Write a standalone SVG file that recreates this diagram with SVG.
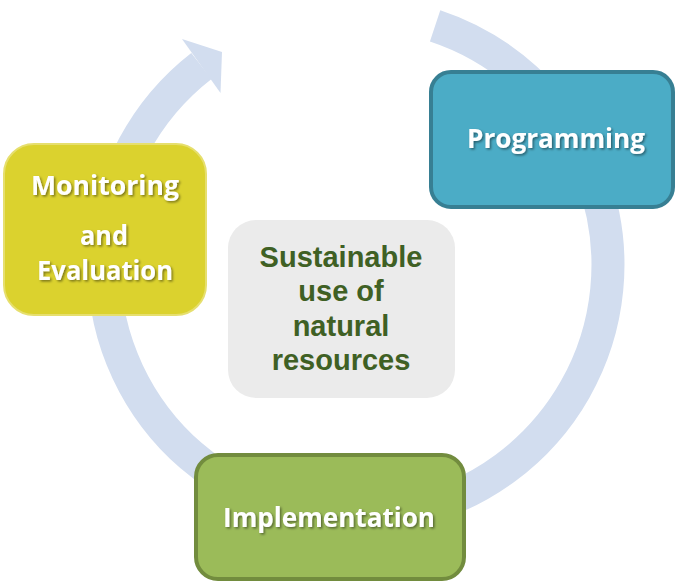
<svg xmlns="http://www.w3.org/2000/svg" width="675" height="583" viewBox="0 0 675 583">
<defs>
<filter id="ts" x="-10%" y="-20%" width="120%" height="150%">
<feDropShadow dx="1.5" dy="1.5" stdDeviation="1" flood-color="#000" flood-opacity="0.45"/>
</filter>
<style>
.ring{fill:none;stroke:#d2ddef;stroke-width:33}
.head{fill:#d2ddef}
.wt{font-family:"Open Sans","DejaVu Sans",sans-serif;font-weight:bold;font-size:26px;fill:#fff;text-anchor:middle;filter:url(#ts)}
.gt{font-family:"Liberation Sans",Arial,sans-serif;font-weight:bold;font-size:29px;fill:#3f6024;text-anchor:middle}
</style>
</defs>
<g id="connectors">
<path class="ring" d="M 435.1 25.8 A 252 252 0 1 1 201.4 66.0"/>
<polygon class="head" points="182,39 222,52 220.5,93"/>
</g>
<g id="programming">
<rect x="431" y="72" width="242" height="135" rx="20" fill="#4bacc6" stroke="#377f93" stroke-width="4"/>
<text class="wt" x="556" y="148" textLength="178" lengthAdjust="spacingAndGlyphs">Programming</text>
</g>
<g id="monitoring">
<rect x="4" y="144" width="202" height="171" rx="30" fill="#dbd22e" stroke="#e6df6e" stroke-width="2"/>
<text class="wt" x="105" y="195" textLength="148" lengthAdjust="spacingAndGlyphs">Monitoring</text>
<text class="wt" x="104" y="245" textLength="48" lengthAdjust="spacingAndGlyphs">and</text>
<text class="wt" x="105" y="280" textLength="136" lengthAdjust="spacingAndGlyphs">Evaluation</text>
</g>
<g id="center">
<rect x="228" y="220" width="227" height="178" rx="28" fill="#ebebeb"/>
<text class="gt" x="341" y="267">Sustainable</text>
<text class="gt" x="341" y="301">use of</text>
<text class="gt" x="341" y="336">natural</text>
<text class="gt" x="341" y="370">resources</text>
</g>
<g id="implementation">
<rect x="196" y="455" width="268" height="124" rx="22" fill="#9bbb59" stroke="#728c3e" stroke-width="4"/>
<text class="wt" x="329" y="527" textLength="212" lengthAdjust="spacingAndGlyphs">Implementation</text>
</g>
</svg>
